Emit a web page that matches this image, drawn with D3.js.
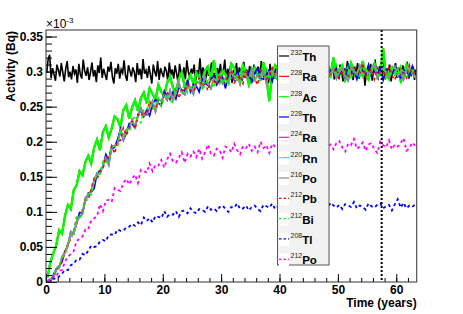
<html>
<script src="https://d3js.org/d3.v7.min.js"></script>
<style>
    body { margin: 0; background: #fff; }
    text { font-family: "Liberation Sans", Arial, sans-serif; }
</style>
<body>
<svg width="463" height="314" id="chart"></svg>
<script>
// values in units of 1e-3 Bq; 232Th in 0.25-year bins, the rest in 0.5-year bins
const binWidth = 0.5;
const th232Bin = 0.25;
const markerYear = 57.5;

const th232 = [
  .298,.318,.324,.291,.305,.296,.287,.310,.302,.293,
  .312,.299,.286,.304,.315,.292,.300,.289,.308,.297,
  .303,.284,.311,.296,.290,.317,.301,.294,.306,.288,
  .299,.313,.293,.302,.285,.309,.298,.320,.291,.304,
  .296,.288,.307,.300,.314,.292,.283,.305,.297,.311,
  .290,.303,.298,.316,.294,.287,.309,.301,.293,.306,
  .299,.285,.312,.295,.304,.289,.318,.297,.302,.291,
  .308,.296,.283,.310,.300,.293,.315,.288,.305,.298,
  .292,.307,.301,.286,.313,.295,.303,.290,.309,.297,
  .284,.311,.299,.294,.306,.289,.316,.300,.292,.304,
  .297,.310,.287,.302,.295,.319,.291,.306,.299,.285,
  .308,.294,.301,.313,.290,.298,.286,.305,.296,.311,
  .293,.300,.317,.288,.304,.297,.309,.284,.302,.295,
  .312,.291,.306,.299,.287,.314,.296,.303,.290,.308,
  .298,.285,.310,.301,.294,.307,.289,.315,.297,.292,
  .305,.299,.283,.311,.296,.302,.290,.309,.300,.288,
  .316,.295,.304,.291,.307,.298,.286,.312,.301,.294,
  .303,.289,.310,.297,.305,.284,.300,.314,.293,.306,
  .299,.291,.308,.295,.318,.290,.302,.287,.311,.296,
  .304,.298,.285,.309,.293,.301,.313,.289,.306,.297,
  .292,.310,.300,.286,.305,.295,.315,.291,.303,.299,
  .288,.307,.296,.312,.290,.301,.294,.309,.280,.298,
  .305,.293,.311,.287,.302,.317,.296,.291,.308,.300,
  .294,.313,.289,.304,.298,.310,.286,.303,.297,.312,
  .291,.306,.299,.285,.309,.295,.302,.314,.290,.301,
  .296,.307,.288,.303];

const ac228 = [
  .006,.028,.041,.052,.074,.069,.094,.110,.104,.131,
  .138,.158,.152,.171,.180,.169,.192,.203,.188,.214,
  .222,.206,.219,.236,.232,.221,.245,.252,.233,.249,
  .259,.244,.262,.270,.255,.276,.268,.260,.281,.271,
  .266,.284,.293,.277,.270,.290,.298,.279,.286,.295,
  .283,.298,.291,.279,.302,.307,.288,.316,.294,.285,
  .301,.296,.283,.311,.305,.289,.293,.309,.299,.281,
  .292,.306,.300,.287,.313,.292,.258,.298,.309,.303,
  .291,.316,.297,.305,.286,.293,.312,.300,.290,.308,
  .302,.289,.294,.310,.298,.285,.307,.296,.320,.291,
  .303,.309,.288,.297,.312,.301,.292,.294,.315,.295,
  .289,.304,.310,.293,.298,.333,.290,.301,.306,.296,
  .303,.287,.299,.310,.294,.302,.291];
// 228Ra sits under 228Ac in the picture
const ra228 = ac228;

const th228 = [
  .001,.000,.010,.019,.023,.029,.044,.052,.071,.070,
  .083,.099,.098,.116,.127,.128,.133,.155,.159,.164,
  .182,.174,.190,.192,.203,.218,.202,.212,.226,.225,
  .220,.237,.245,.236,.245,.237,.254,.260,.255,.252,
  .272,.265,.260,.271,.261,.277,.274,.272,.288,.271,
  .282,.279,.271,.290,.284,.280,.290,.293,.281,.288,
  .292,.276,.296,.291,.288,.301,.286,.294,.292,.299,
  .285,.298,.305,.291,.289,.296,.303,.286,.300,.295,
  .301,.293,.305,.289,.298,.310,.295,.290,.301,.298,
  .287,.304,.301,.294,.307,.297,.289,.302,.298,.305,
  .294,.301,.292,.310,.298,.303,.289,.305,.300,.296,
  .310,.293,.300,.297,.305,.288,.303,.304,.295,.307,
  .296,.291,.303,.300,.293,.308,.298];

const po216 = [
  .002,.004,.006,.017,.020,.036,.043,.051,.072,.069,
  .086,.093,.097,.120,.124,.129,.145,.155,.154,.166,
  .177,.167,.193,.194,.196,.215,.204,.217,.219,.231,
  .221,.237,.248,.238,.238,.248,.258,.243,.260,.258,
  .266,.259,.273,.259,.270,.284,.271,.267,.280,.278,
  .268,.286,.284,.278,.292,.283,.276,.290,.287,.295,
  .283,.291,.283,.301,.290,.295,.282,.298,.294,.290,
  .304,.288,.295,.292,.301,.284,.299,.301,.292,.304,
  .293,.289,.301,.298,.291,.306,.296,.299,.291,.301,
  .306,.295,.288,.302,.299,.309,.294,.297,.304,.290,
  .301,.304,.293,.287,.306,.300,.296,.308,.293,.302,
  .298,.303,.312,.291,.296,.305,.299,.290,.303,.307,
  .294,.300,.289,.303,.306,.298,.292];
// 224Ra and 220Rn are hidden under 216Po
const ra224 = po216;
const rn220 = po216;

const pb212 = [
  .000,.005,.005,.019,.023,.028,.043,.055,.061,.073,
  .092,.090,.102,.117,.117,.133,.148,.147,.158,.161,
  .178,.178,.194,.183,.200,.202,.220,.209,.219,.229,
  .218,.239,.236,.243,.238,.258,.247,.248,.260,.251,
  .264,.271,.261,.266,.275,.262,.274,.272,.282,.273,
  .271,.283,.291,.279,.282,.273,.289,.287,.281,.296,
  .286,.284,.296,.302,.284,.290,.295,.283,.299,.290,
  .294,.290,.281,.302,.299,.289,.295,.305,.292,.288,
  .301,.296,.308,.294,.290,.298,.304,.287,.295,.302,
  .294,.306,.292,.300,.286,.304,.299,.295,.299,.309,
  .291,.298,.303,.294,.292,.305,.299,.296,.312,.293,
  .298,.303,.289,.305,.297,.300,.293,.307,.295,.288,
  .302,.305,.298,.291,.309,.296,.300];

const bi212 = [
  .000,.004,.005,.020,.023,.035,.038,.054,.064,.071,
  .092,.090,.105,.113,.128,.124,.144,.154,.155,.172,
  .170,.172,.191,.194,.193,.214,.209,.217,.214,.229,
  .237,.230,.227,.245,.245,.258,.246,.252,.262,.251,
  .263,.268,.259,.255,.276,.272,.270,.283,.270,.280,
  .278,.284,.294,.274,.280,.290,.285,.277,.291,.296,
  .283,.290,.280,.294,.298,.290,.285,.303,.295,.288,
  .297,.286,.300,.295,.293,.307,.289,.299,.295,.286,
  .304,.298,.293,.302,.304,.291,.297,.301,.284,.303,
  .299,.295,.308,.292,.300,.297,.304,.290,.302,.309,
  .296,.293,.300,.307,.289,.303,.298,.304,.295,.307,
  .291,.300,.312,.297,.292,.303,.300,.288,.305,.302,
  .295,.308,.298,.290,.303,.299,.306];

const tl208 = [
  .000,.002,.005,.004,.008,.012,.017,.017,.024,.026,
  .032,.032,.040,.038,.045,.052,.050,.051,.058,.060,
  .058,.067,.068,.067,.075,.073,.073,.078,.079,.083,
  .080,.085,.081,.092,.087,.091,.085,.094,.093,.091,
  .101,.093,.097,.096,.101,.093,.101,.102,.098,.105,
  .100,.098,.104,.103,.100,.108,.103,.105,.101,.107,
  .109,.104,.100,.107,.106,.112,.104,.105,.109,.102,
  .107,.109,.104,.101,.110,.108,.106,.112,.104,.108,
  .107,.110,.114,.104,.106,.111,.108,.103,.110,.112,
  .106,.109,.103,.110,.112,.108,.105,.113,.109,.106,
  .110,.104,.111,.109,.107,.114,.105,.109,.107,.103,
  .112,.108,.106,.110,.112,.105,.108,.110,.102,.111,
  .118,.106,.113,.105,.109,.107,.111];

const po212 = [
  .000,.004,.008,.008,.016,.017,.029,.036,.040,.044,
  .059,.061,.065,.075,.075,.088,.091,.094,.111,.101,
  .116,.117,.114,.134,.131,.130,.141,.147,.139,.147,
  .153,.141,.160,.158,.156,.169,.158,.167,.166,.174,
  .163,.175,.183,.172,.170,.177,.185,.170,.183,.179,
  .186,.178,.190,.176,.185,.196,.183,.180,.190,.188,
  .177,.193,.191,.185,.197,.188,.182,.194,.191,.197,
  .187,.193,.185,.200,.191,.195,.184,.197,.193,.189,
  .203,.188,.194,.191,.198,.183,.196,.197,.189,.200,
  .192,.187,.198,.195,.189,.202,.193,.196,.189,.198,
  .201,.192,.186,.197,.195,.204,.190,.193,.199,.187,
  .196,.198,.189,.184,.200,.195,.192,.202,.189,.196,
  .193,.198,.205,.187,.191,.199,.194];

const legendMass = ["232","228","228","228","224","220","216","212","212","208","212"];
const legendSym  = ["Th","Ra","Ac","Th","Ra","Rn","Po","Pb","Bi","Tl","Po"];

const xTicks = [0,10,20,30,40,50,60];
const xMinor = d3.range(0, 64, 2);
const yTicks = [0,0.05,0.1,0.15,0.2,0.25,0.3,0.35];
const yTickLabels = ["0","0.05","0.1","0.15","0.2","0.25","0.3","0.35"];
const yMinor = d3.range(0, 0.355, 0.01);

// draw order as in the legend
const series = [
  {data: th232, bw: th232Bin, color: "#000000", w: 1.6, dash: null},
  {data: ra228, bw: binWidth, color: "#ff0000", w: 2,   dash: null},
  {data: ac228, bw: binWidth, color: "#00ff00", w: 2.4, dash: null},
  {data: th228, bw: binWidth, color: "#0000ff", w: 1.6, dash: null},
  {data: ra224, bw: binWidth, color: "#ff00ff", w: 1.6, dash: null},
  {data: rn220, bw: binWidth, color: "#00ffff", w: 1.6, dash: null},
  {data: po216, bw: binWidth, color: "#8c8c8c", w: 1.8, dash: null},
  {data: pb212, bw: binWidth, color: "#ff0000", w: 1.6, dash: "3,3"},
  {data: bi212, bw: binWidth, color: "#00ff00", w: 1.6, dash: "3,3"},
  {data: tl208, bw: binWidth, color: "#0000ff", w: 1.8, dash: "3,3"},
  {data: po212, bw: binWidth, color: "#ff00ff", w: 1.8, dash: "3,3"}
];

const svg = d3.select("#chart");
const fLeft = 46, fTop = 30, fRight = 416.7, fBottom = 282;

const x = d3.scaleLinear().domain([0, 63.5]).range([fLeft, fRight]);
const y = d3.scaleLinear().domain([0, 0.3593]).range([fBottom, fTop]);

svg.append("clipPath").attr("id", "frameClip")
   .append("rect").attr("x", fLeft).attr("y", fTop)
   .attr("width", fRight - fLeft).attr("height", fBottom - fTop);

const plot = svg.append("g").attr("clip-path", "url(#frameClip)");

series.forEach(function(s) {
    const line = d3.line()
        .x(function(d, i) { return x(s.bw * (i + 0.5)); })
        .y(function(d) { return y(d); });
    plot.append("path")
        .datum(s.data)
        .attr("fill", "none")
        .attr("stroke", s.color)
        .attr("stroke-width", s.w)
        .attr("stroke-dasharray", s.dash)
        .attr("d", line);
});

// dotted marker
plot.append("line")
    .attr("x1", x(markerYear)).attr("x2", x(markerYear))
    .attr("y1", fTop).attr("y2", fBottom)
    .attr("stroke", "#000").attr("stroke-width", 2)
    .attr("stroke-dasharray", "2,2");

// axes, ticks inside the frame
svg.append("g").attr("transform", "translate(" + fLeft + ",0)")
    .call(d3.axisLeft(y).tickValues(yTicks).tickSize(-11).tickSizeOuter(0).tickPadding(3)
        .tickFormat(function(d, i) { return yTickLabels[i]; }));
svg.append("g").attr("transform", "translate(" + fLeft + ",0)")
    .call(d3.axisLeft(y).tickValues(yMinor).tickSize(-6).tickSizeOuter(0).tickFormat(""));

svg.append("g").attr("transform", "translate(0," + fBottom + ")")
    .call(d3.axisBottom(x).tickValues(xTicks).tickSize(-8).tickSizeOuter(0).tickPadding(3));
svg.append("g").attr("transform", "translate(0," + fBottom + ")")
    .call(d3.axisBottom(x).tickValues(xMinor).tickSize(-4).tickSizeOuter(0).tickFormat(""));

svg.selectAll(".domain").remove();
svg.selectAll(".tick line").attr("stroke", "#000");
svg.selectAll(".tick text")
    .attr("font-family", "Liberation Sans, Arial, sans-serif")
    .attr("font-size", 12).attr("font-weight", "bold").attr("fill", "#000");

// frame
svg.append("rect")
    .attr("x", fLeft).attr("y", fTop)
    .attr("width", fRight - fLeft).attr("height", fBottom - fTop)
    .attr("fill", "none").attr("stroke", "#333").attr("stroke-width", 1);

// titles
svg.append("text")
    .attr("transform", "translate(15," + (fTop + 1) + ") rotate(-90)")
    .attr("text-anchor", "end")
    .attr("font-size", 12).attr("font-weight", "bold")
    .text("Activity (Bq)");

svg.append("text")
    .attr("x", fRight).attr("y", 307)
    .attr("text-anchor", "end")
    .attr("font-size", 12).attr("font-weight", "bold")
    .text("Time (years)");

const expo = svg.append("text").attr("x", fLeft).attr("y", 28).attr("font-size", 12);
expo.append("tspan").text("\u00d710");
expo.append("tspan").attr("font-size", 8).attr("dy", -5).text("-3");

// legend
const lg = svg.append("g");
const lgTop = 46, rowH = 20.33;
lg.append("rect")
    .attr("x", 277.5).attr("y", lgTop)
    .attr("width", 51.5).attr("height", 219)
    .attr("fill", "#f2f2f2").attr("stroke", "#555").attr("stroke-width", 1);

legendSym.forEach(function(sym, k) {
    const base = lgTop + 15 + rowH * k;
    const s = series[k];
    lg.append("rect")
        .attr("x", 279).attr("y", base - 11)
        .attr("width", 10).attr("height", 13)
        .attr("fill", "#fff");
    lg.append("line")
        .attr("x1", 279).attr("x2", 289)
        .attr("y1", base - 5).attr("y2", base - 5)
        .attr("stroke", s.color).attr("stroke-width", 1.2)
        .attr("stroke-dasharray", s.dash ? "2.5,2" : null);
    const t = lg.append("text").attr("x", 290.5).attr("y", base);
    t.append("tspan")
        .attr("font-size", 7).attr("fill", "#222").attr("dy", -6)
        .text(legendMass[k]);
    t.append("tspan")
        .attr("font-size", 11.5).attr("font-weight", "bold").attr("dy", 6)
        .text(sym);
});
</script>
</body>
</html>
